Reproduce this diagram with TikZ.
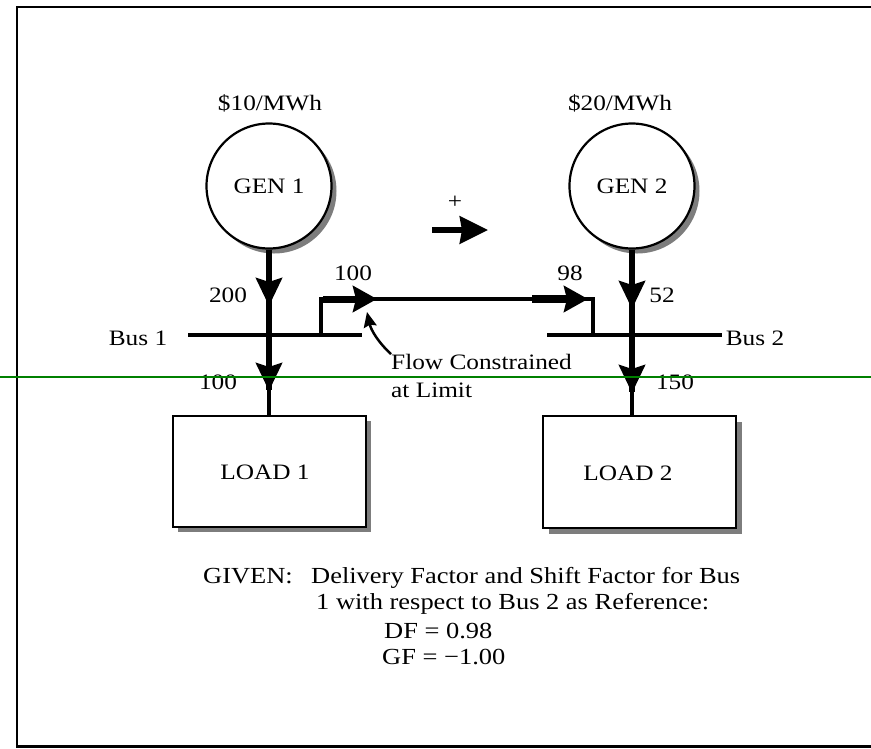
\documentclass[tikz,border=0pt]{standalone}
\usepackage{fontspec}
\setmainfont{Liberation Serif}[FakeStretch=1.15]
\usetikzlibrary{arrows.meta}
\definecolor{gline}{RGB}{0,128,0}
\definecolor{shadowgray}{RGB}{125,125,125}
\tikzset{
  txt/.style={font=\fontsize{22}{26}\selectfont, inner sep=0pt},
  bigtxt/.style={font=\fontsize{23}{27}\selectfont, inner sep=0pt},
  gencirc/.style={circle, draw, line width=2.2pt, fill=white, minimum size=125pt, inner sep=0pt, font=\fontsize{22}{26}\selectfont},
  loadbox/.style={draw, line width=2.6pt, fill=white, minimum width=193pt, minimum height=111pt, inner sep=0pt},
  heavy/.style={line width=5.5pt},
  medium/.style={line width=4pt},
  flowline/.style={line width=3.5pt},
  bigtip/.style={-{Stealth[length=28pt,width=26pt,inset=4pt]}},
  ltip/.style={-{Stealth[length=24pt,width=26pt,inset=3pt]}},
}
\begin{document}
\begin{tikzpicture}[x=1pt,y=-1pt]
\useasboundingbox (0,0) rectangle (871,748);
% frame
\draw[line width=2pt] (871,7) -- (17,7) -- (17,746);
\draw[line width=3pt] (16,746) -- (871,746);

% generators
\fill[shadowgray] (274,191) circle (62.5pt);
\node[gencirc] (gen1) at (269,186) {GEN 1};
\fill[shadowgray] (637,191) circle (62.5pt);
\node[gencirc] (gen2) at (632,186) {GEN 2};
\node[txt] (price1) at (270,103) {\$10/MWh};
\node[txt] (price2) at (620,103) {\$20/MWh};

% loads
\fill[shadowgray] (178,421) rectangle (371,532);
\node[loadbox] (load1) at (269.5,471.5) {};
\node[txt] (l1txt) at (265,472) {LOAD 1};
\fill[shadowgray] (549,422) rectangle (742,534);
\node[loadbox, minimum height=112pt] (load2) at (639.5,472) {};
\node[txt] (l2txt) at (628,473) {LOAD 2};

% buses
\coordinate (bus1L) at (188,335);
\coordinate (bus1R) at (362,335);
\coordinate (bus2L) at (547,335);
\coordinate (bus2R) at (722,335);
\draw[medium] (bus1L) -- (bus1R);
\draw[medium] (bus2L) -- (bus2R);
\node[txt] (bus1lab) at (138,338) {Bus 1};
\node[txt] (bus2lab) at (755,338) {Bus 2};

% generator / load feeders
\coordinate (a1) at (269,390);
\coordinate (a2) at (632,392);
\draw[heavy] (gen1.south) -- (a1);
\draw[medium] (a1) -- (load1.north -| a1);
\draw[heavy] (gen2.south) -- (a2);
\draw[medium] (a2) -- (load2.north -| a2);
\draw[heavy, bigtip] (269,280) -- (269,306);
\draw[heavy, bigtip] (269,365) -- (269,391);
\draw[heavy, bigtip] (632,283) -- (632,309);
\draw[heavy, bigtip] (632,366) -- (632,393);

% transmission line
\coordinate (s1) at (321,337);
\coordinate (c1) at (321,299);
\coordinate (c2) at (593,299);
\coordinate (s2) at (593,337);
\draw[flowline] (s1) -- (c1) -- (c2) -- (s2);
\draw[line width=7pt] (323,299) -- (360,299);
\draw[line width=7pt, ltip] (340,299) -- (377,299);
\draw[line width=8pt] (532,299) -- (570,299);
\draw[line width=8pt, ltip] (552,299) -- (588,299);

% direction arrow
\node[txt] (plus) at (455,202) {+};
\draw[line width=6pt, -{Stealth[length=28pt,width=27pt,inset=2pt]}] (432,230) -- (488,230);

% flow labels
\node[txt] (f200) at (228,295) {200};
\node[txt] (f100b) at (218,382) {100};
\node[txt] (f100) at (353,273) {100};
\node[txt] (f98) at (570,273) {98};
\node[txt] (f52) at (662,295) {52};
\node[txt] (f150) at (675,382) {150};

% constraint note
\node[txt, anchor=west] (flow) at (391,362) {Flow Constrained};
\node[txt, anchor=west] (limit) at (391,390) {at Limit};
\draw[line width=2.5pt, -{Stealth[length=15pt,width=13pt,inset=2pt]}] (flow.north west) .. controls (378,342) and (371,330) .. (367,312);

% given text
\node[bigtxt, anchor=west] (g1) at (203,578) {GIVEN:\hspace{0.8em}Delivery Factor and Shift Factor for Bus};
\node[bigtxt, anchor=west] (g2) at (316,604) {1 with respect to Bus 2 as Reference:};
\node[bigtxt, anchor=west] (g3) at (384,631) {DF = 0.98};
\node[bigtxt, anchor=west] (g4) at (382,657) {GF = −1.00};

% green horizontal rule
\draw[gline, line width=1.5pt] (0,377) -- (871,377);
\end{tikzpicture}
\end{document}
